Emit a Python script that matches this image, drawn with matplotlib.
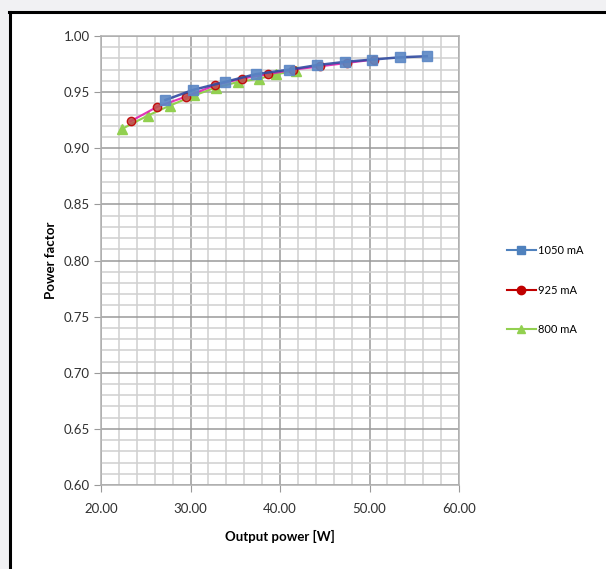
import matplotlib.pyplot as plt
from matplotlib.lines import Line2D
from matplotlib.patches import Rectangle
import numpy as np

# power factor vs output power, three drive currents
x_1050 = [27.2, 30.3, 33.8, 37.3, 41.0, 44.1, 47.3, 50.3, 53.4, 56.4]
pf_1050 = [0.943, 0.952, 0.959, 0.966, 0.970, 0.974, 0.977, 0.979, 0.981, 0.982]

x_925 = [23.3, 26.3, 29.5, 32.7, 35.7, 38.7, 41.5, 44.5, 47.5, 50.5]
pf_925 = [0.924, 0.937, 0.946, 0.956, 0.962, 0.966, 0.970, 0.973, 0.976, 0.979]

x_800 = [22.3, 25.2, 27.7, 30.4, 32.8, 35.3, 37.7, 39.6, 41.8]
pf_800 = [0.917, 0.929, 0.938, 0.947, 0.954, 0.959, 0.962, 0.966, 0.969]

labels = ['1050 mA', '925 mA', '800 mA']
font = 'Lato'

fig = plt.figure(figsize=(6.06, 5.69), dpi=100)
fig.patch.set_facecolor('#f1f1f3')
W, H = 606, 569

# white panel with black frame on top/left (the screenshot is cropped)
fig.add_artist(Rectangle((10 / W, 0), 1, 1 - 13 / H, transform=fig.transFigure,
                         facecolor='white', edgecolor='none', zorder=0))
fig.add_artist(Line2D([10 / W, 10 / W], [0, 1 - 12 / H], transform=fig.transFigure,
                      color='black', lw=2.2))
fig.add_artist(Line2D([9 / W, 1], [1 - 12 / H, 1 - 12 / H], transform=fig.transFigure,
                      color='black', lw=2.2))

ax = fig.add_axes([101 / W, 1 - 485 / H, (459 - 101) / W, (485 - 36) / H])
ax.set_facecolor('white')

ax.plot(x_800, pf_800, color='#92d050', lw=1.5, marker='^', ms=7,
        mfc='#92d050', mec='#92d050', zorder=3)
ax.plot(x_925, pf_925, color='#e020b0', lw=1.5, marker='o', ms=6,
        mfc='#c0504d', mec='#c00000', alpha=0.9, zorder=4)
ax.plot(x_1050, pf_1050, color='#2f4aa0', lw=1.8, marker='s', ms=6.5,
        mfc='#5b87c5', mec='#5b87c5', alpha=0.9, zorder=5)

ax.set_xlim(20, 60)
ax.set_ylim(0.60, 1.00)
ax.set_xticks(np.arange(20, 61, 10))
ax.set_yticks(np.arange(0.60, 1.001, 0.05))
ax.set_xticks(np.arange(20, 61, 2), minor=True)
ax.set_yticks(np.arange(0.60, 1.001, 0.01), minor=True)
ax.set_xticklabels(['%.2f' % v for v in np.arange(20, 61, 10)])
ax.set_yticklabels(['%.2f' % v for v in np.arange(0.60, 1.001, 0.05)])

ax.grid(which='minor', color='#d0d0d0', lw=1.1)
ax.grid(which='major', color='#9a9a9a', lw=1.1)
ax.set_axisbelow(True)
ax.tick_params(which='minor', length=0)
ax.tick_params(which='major', length=5, color='#9a9a9a', labelsize=9.5,
               labelcolor='#303030', pad=3)
ax.tick_params(axis='x', pad=8)
for lbl in ax.get_xticklabels() + ax.get_yticklabels():
    lbl.set_family(font)
for s in ax.spines.values():
    s.set_color('#b0b0b0')
    s.set_linewidth(1.1)

ax.set_xlabel('Output power [W]', fontsize=9.5, fontweight='bold', family=font,
              labelpad=11)
ax.set_ylabel('Power factor', fontsize=9.5, fontweight='bold', family=font,
              labelpad=5)

handles = [
    Line2D([], [], color='#4f81bd', lw=1.5, marker='s', ms=6, mfc='#4f81bd', mec='#4f81bd'),
    Line2D([], [], color='#c00000', lw=1.5, marker='o', ms=6, mfc='#c00000', mec='#c00000'),
    Line2D([], [], color='#92d050', lw=1.5, marker='^', ms=6, mfc='#92d050', mec='#92d050'),
]
fig.legend(handles, labels, loc='center left', bbox_to_anchor=(497 / W, 1 - 290 / H),
           frameon=False, prop={'family': font, 'size': 8}, labelspacing=2.6,
           handlelength=2.6, handletextpad=0.2)

fig.savefig('out.png', dpi=100, facecolor=fig.get_facecolor())
